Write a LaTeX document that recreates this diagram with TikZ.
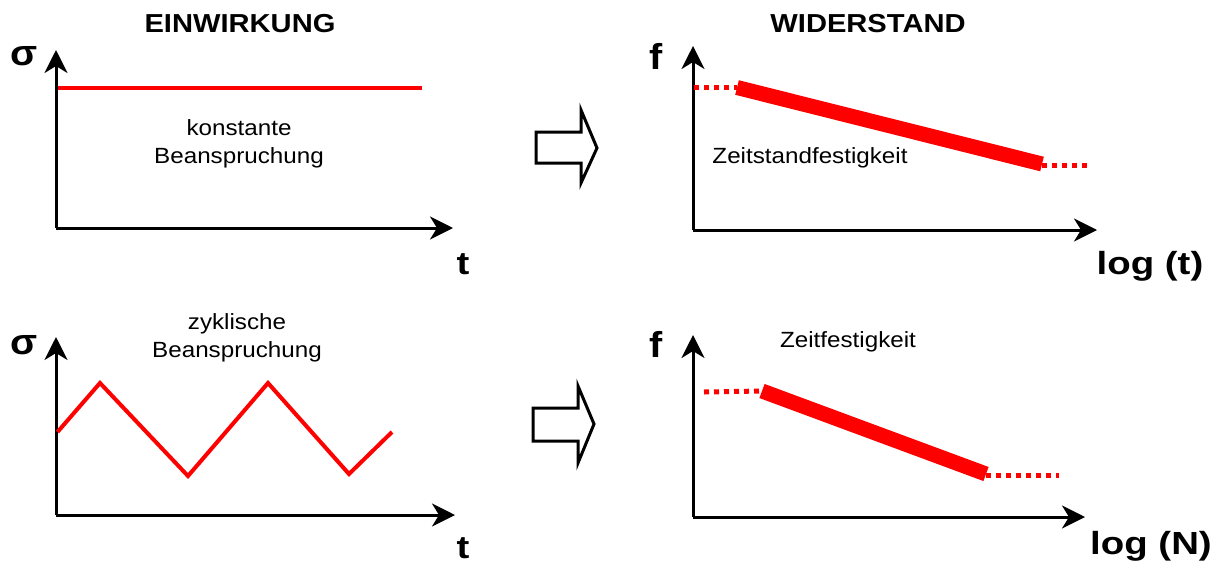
\documentclass[tikz,border=0pt]{standalone}
\usepackage{fontspec}
\setmainfont{Liberation Sans}
\newfontfamily\headfont{Liberation Sans}[FakeStretch=1.12]
\newfontfamily\axisfont{Liberation Sans}[FakeStretch=1.2]
\newfontfamily\sigmafont{Liberation Sans}[FakeStretch=1.1]
\newfontfamily\notefont{Liberation Sans}[FakeStretch=1.1]
\usetikzlibrary{arrows.meta}
\definecolor{curvered}{RGB}{255,0,0}
\tikzset{
  axis/.style={line width=3pt, -{Stealth[length=23pt,width=23pt,inset=7pt]}},
  loadline/.style={curvered, line width=4pt},
  strength/.style={curvered, line width=15pt},
  dotline/.style={curvered, line width=5pt, dash pattern=on 5pt off 5pt},
  heading/.style={font=\headfont\bfseries\fontsize{26}{30}\selectfont},
  axislabel/.style={font=\axisfont\bfseries\fontsize{32}{36}\selectfont, anchor=base, inner sep=0pt},
  sigmalabel/.style={font=\sigmafont\bfseries\fontsize{36}{40}\selectfont, inner sep=0pt},
  note/.style={font=\notefont\fontsize{22}{28}\selectfont, align=center, inner sep=0pt},
  hollow/.style={line width=3pt, line join=miter},
}
\begin{document}
\begin{tikzpicture}[x=1pt,y=-1pt]
\useasboundingbox (0,0) rectangle (1222,570);

% headings
\node[heading] (h1) at (240,23.5) {EINWIRKUNG};
\node[heading] (h2) at (868,23.5) {WIDERSTAND};

% ---------- constant load ----------
\coordinate (o1) at (56,228);
\coordinate (y1) at (56,50);
\coordinate (x1) at (453,228);
\draw[axis] (o1) -- (y1);
\draw[axis] (o1) -- (x1);
\coordinate (c1a) at (57.5,88);
\coordinate (c1b) at (422,88);
\draw[loadline] (c1a) -- (c1b);
\node[sigmalabel] (s1) at (24,56) {σ};
\node[axislabel] (t1) at (463,274) {t};
\node[note] (n1) at (239,144) {konstante\\Beanspruchung};

% ---------- creep strength ----------
\coordinate (o2) at (693,230);
\coordinate (y2) at (693,46);
\coordinate (x2) at (1097,230);
\draw[axis] (o2) -- (y2);
\draw[axis] (o2) -- (x2);
\coordinate (d2a) at (694,87.5);
\coordinate (d2b) at (737,87.5);
\coordinate (d2c) at (1042,164);
\coordinate (d2d) at (1042,165.5);
\coordinate (d2e) at (1087,165.5);
\draw[dotline] (d2a) -- (d2b);
\draw[strength] (d2b) -- (d2c);
\draw[dotline] (d2d) -- (d2e);
\node[sigmalabel] (f2) at (656,56) {f};
\node[axislabel] (l2) at (1150,274) {log (t)};
\node[note] (n2) at (810,158) {Zeitstandfestigkeit};

% ---------- cyclic load ----------
\coordinate (o3) at (56,515);
\coordinate (y3) at (56,337);
\coordinate (x3) at (455,515);
\draw[axis] (o3) -- (y3);
\draw[axis] (o3) -- (x3);
\coordinate (z0) at (57.5,432);
\coordinate (z1) at (100,383);
\coordinate (z2) at (188,476);
\coordinate (z3) at (268,383);
\coordinate (z4) at (349,474);
\coordinate (z5) at (392,432);
\draw[loadline, line join=miter] (z0) -- (z1) -- (z2) -- (z3) -- (z4) -- (z5);
\node[sigmalabel] (s3) at (24,345) {σ};
\node[axislabel] (t3) at (463,558) {t};
\node[note] (n3) at (237,338) {zyklische\\Beanspruchung};

% ---------- fatigue strength ----------
\coordinate (o4) at (693,517);
\coordinate (y4) at (693,335);
\coordinate (x4) at (1085,517);
\draw[axis] (o4) -- (y4);
\draw[axis] (o4) -- (x4);
\coordinate (d4a) at (704,392);
\coordinate (d4b) at (762,391);
\coordinate (d4c) at (986,474);
\coordinate (d4d) at (986,475.5);
\coordinate (d4e) at (1059,475.5);
\draw[dotline] (d4a) -- (d4b);
\draw[strength] (d4b) -- (d4c);
\draw[dotline] (d4d) -- (d4e);
\node[sigmalabel] (f4) at (656,344) {f};
\node[axislabel] (l4) at (1151,554) {log (N)};
\node[note] (n4) at (848,342) {Zeitfestigkeit};

% ---------- hollow arrows ----------
\draw[hollow] (536,132) -- (581,132) -- (581,110) -- (597,148) -- (581,183)
  -- (581,163) -- (536,163) -- cycle;
\draw[hollow] (533,408) -- (578,408) -- (578,386) -- (594,424) -- (578,463)
  -- (578,441) -- (533,441) -- cycle;
\end{tikzpicture}
\end{document}
